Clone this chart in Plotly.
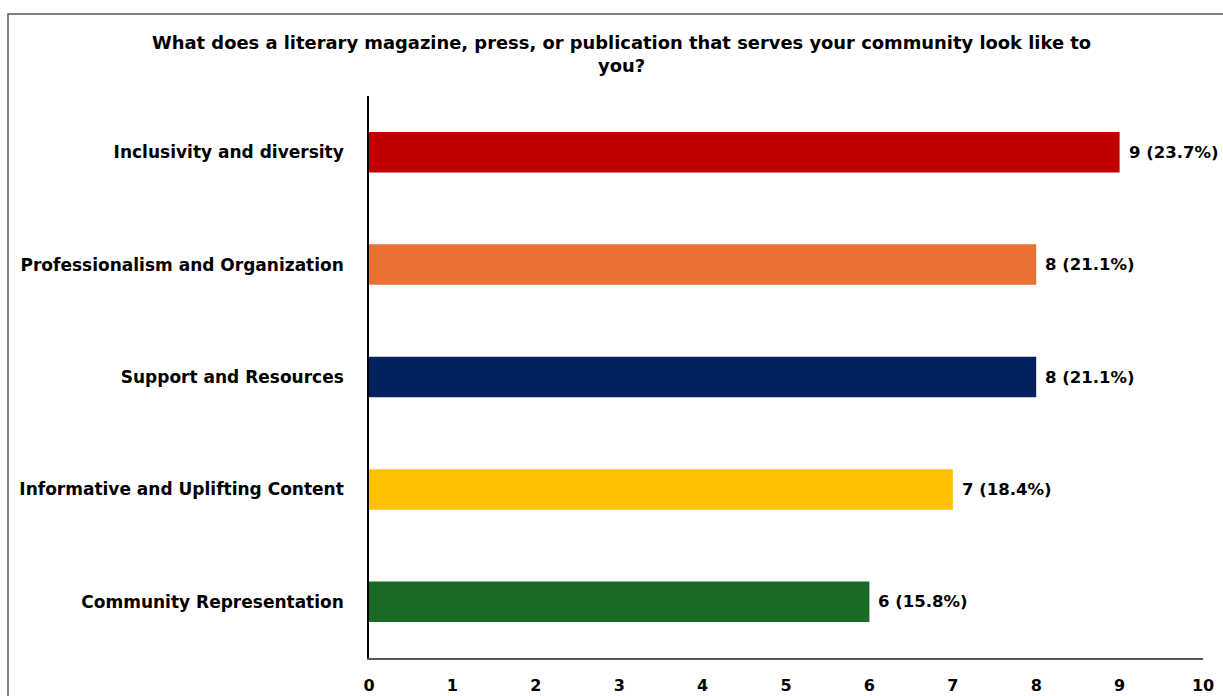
import plotly.graph_objects as go

# Survey responses: what a community-serving literary publication looks like
categories = [
    "Inclusivity and diversity",
    "Professionalism and Organization",
    "Support and Resources",
    "Informative and Uplifting Content",
    "Community Representation",
]
counts = [9, 8, 8, 7, 6]
percents = [23.7, 21.1, 21.1, 18.4, 15.8]
colors = ["#C00000", "#E97132", "#002060", "#FFC000", "#196B24"]
x_ticks = list(range(0, 11))

W, H = 1223, 696
ML, MR, MT, MB = 369, 20, 96, 38
plot_w = W - ML - MR
plot_h = H - MT - MB

FONT = "DejaVu Sans"

fig = go.Figure(
    go.Bar(
        x=counts,
        y=categories,
        orientation="h",
        marker=dict(color=colors, line=dict(width=0)),
        width=0.36,
        hoverinfo="skip",
    )
)

# Value labels to the right of each bar
for c, p, cat in zip(counts, percents, categories):
    fig.add_annotation(
        x=c, y=cat, xref="x", yref="y",
        text=f"<b>{c} ({p:.1f}%)</b>",
        showarrow=False, xanchor="left", yanchor="middle", xshift=7,
        font=dict(family=FONT, size=16.5, color="#000000"),
    )

# Chart title
fig.add_annotation(
    x=(621 - ML) / plot_w, y=(H - MB - 54) / plot_h, xref="paper", yref="paper",
    text="<b>What does a literary magazine, press, or publication that serves your community look like to<br>you?</b>",
    showarrow=False, xanchor="center", yanchor="middle", align="center",
    font=dict(family=FONT, size=17.9, color="#000000"),
)

# Outer chart frame
fig.add_shape(
    type="rect", xref="paper", yref="paper", layer="below",
    x0=(8 - ML) / plot_w, x1=(W + 20 - ML) / plot_w,
    y0=(H - MB - (H + 20)) / plot_h, y1=(H - MB - 14) / plot_h,
    line=dict(color="#595959", width=1.5), fillcolor="rgba(0,0,0,0)",
)

fig.update_layout(
    width=W, height=H,
    margin=dict(l=ML, r=MR, t=MT, b=MB),
    paper_bgcolor="white", plot_bgcolor="white",
    showlegend=False,
    bargap=0.64,
    font=dict(family=FONT, size=16, color="#000000"),
    xaxis=dict(
        range=[0, 10], tickvals=x_ticks, ticktext=[f"<b>{t}</b>" for t in x_ticks],
        showgrid=False, zeroline=False, showline=True, linecolor="#595959", linewidth=1.5,
        ticks="", ticklabelstandoff=12, automargin=False,
        tickfont=dict(family=FONT, size=16, color="#000000"),
    ),
    yaxis=dict(
        categoryorder="array", categoryarray=categories[::-1],
        tickvals=categories, ticktext=[f"<b>{c}</b>" for c in categories],
        showgrid=False, zeroline=False, showline=True, linecolor="#000000", linewidth=1.5,
        ticks="", ticklabelstandoff=20, automargin=False,
        tickfont=dict(family=FONT, size=17, color="#000000"),
    ),
)

fig.write_html("out.html")
